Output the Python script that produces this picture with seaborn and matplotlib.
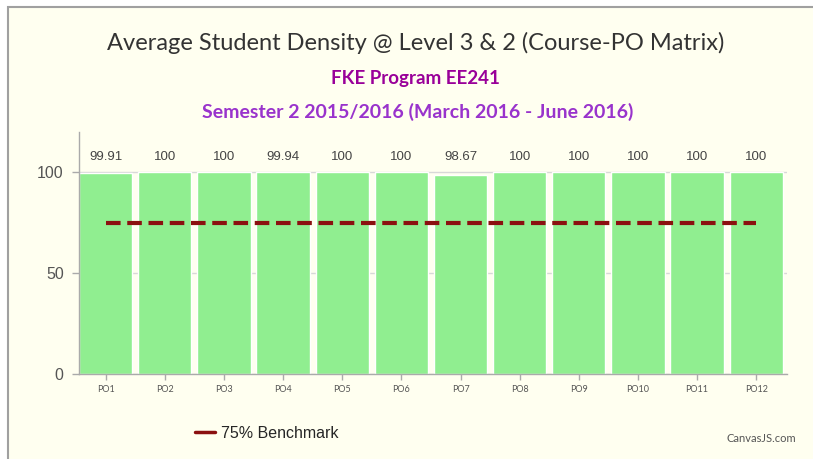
import seaborn as sns
import matplotlib.pyplot as plt
from matplotlib.patches import Rectangle
from matplotlib.lines import Line2D

# data
categories = ["PO1", "PO2", "PO3", "PO4", "PO5", "PO6", "PO7", "PO8", "PO9", "PO10", "PO11", "PO12"]
density = [99.91, 100, 100, 99.94, 100, 100, 98.67, 100, 100, 100, 100, 100]
benchmark = [75] * 12

bg = "#FFFFF0"
bar_color = "#90EE90"
line_color = "#8B1010"

sns.set_style("white")
plt.rcParams['font.family'] = ['Lato', 'DejaVu Sans']

fig = plt.figure(figsize=(8.13, 4.59), dpi=100, facecolor="white")
# chart frame (screenshot border)
fig.patches.append(Rectangle((8 / 813, -0.1), 1.0, 1 - 7 / 459 + 0.1, transform=fig.transFigure,
                             facecolor=bg, edgecolor="#A0A0A0", linewidth=1.5, zorder=-5))

ax = fig.add_axes([79 / 813, 85 / 459, (787 - 79) / 813, (374 - 132) / 459])
ax.set_facecolor(bg)
ax.yaxis.grid(True, color="#D8D8D8", linewidth=1)
ax.set_axisbelow(True)

sns.barplot(x=categories, y=density, color=bar_color, width=0.9, saturation=1, ax=ax, zorder=2)
sns.lineplot(x=categories, y=benchmark, color=line_color, linewidth=3, linestyle=(0, (3.5, 1.6)),
             sort=False, ax=ax, zorder=3)

# value labels above the bars
for i, v in enumerate(density):
    ax.text(i, 107.5, f"{v:g}", ha="center", va="center", fontsize=9.5, color="#444444",
            family=["Liberation Sans", "DejaVu Sans"])

ax.set_ylim(0, 120)
ax.set_xlim(-0.45, 11.52)
ax.set_yticks([0, 50, 100])
ax.tick_params(axis="y", labelsize=11.5, colors="#555555", length=5, width=1, color="#AAAAAA", left=True, pad=6)
ax.tick_params(axis="x", labelsize=6.5, colors="#555555", length=4, width=1, color="#AAAAAA", bottom=True, pad=4)
for lab in ax.get_yticklabels():
    lab.set_family(["Liberation Sans", "DejaVu Sans"])
ax.set_xlabel("")
ax.set_ylabel("")
for side in ["top", "right"]:
    ax.spines[side].set_visible(False)
for side in ["left", "bottom"]:
    ax.spines[side].set_color("#AAAAAA")
    ax.spines[side].set_linewidth(1)

# titles
fig.text(416 / 813, 1 - 43 / 459, "Average Student Density @ Level 3 & 2 (Course-PO Matrix)",
         ha="center", va="center", fontsize=17, color="#333333")
fig.text(415 / 813, 1 - 78 / 459, "FKE Program EE241", ha="center", va="center",
         fontsize=13.5, fontweight="bold", color="#990099")
fig.text(418 / 813, 1 - 112 / 459, "Semester 2 2015/2016 (March 2016 - June 2016)", ha="center", va="center",
         fontsize=14, fontweight="bold", color="#9933CC")

# legend
handle = Line2D([], [], color=line_color, linewidth=2.5)
fig.legend([handle], ["75% Benchmark"], loc="center left", bbox_to_anchor=(181 / 813, 1 - 433 / 459),
           frameon=False, handlelength=1.2, handletextpad=0.4,
           prop={"family": ["Liberation Sans", "DejaVu Sans"], "size": 11.5})
fig.text(796 / 813, 1 - 439 / 459, "CanvasJS.com", ha="right", va="center", fontsize=8, color="#555555")

plt.savefig("out.png", dpi=100, facecolor="white")
